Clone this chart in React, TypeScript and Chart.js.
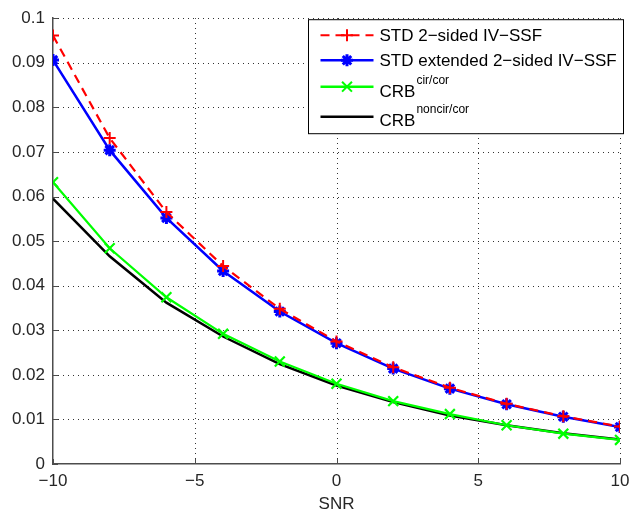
import React, { useEffect, useRef } from "react";
import { Chart, registerables } from "chart.js";

Chart.register(...registerables);

const snr = [-10, -8, -6, -4, -2, 0, 2, 4, 6, 8, 10];
const stdTwoSided = [0.0961, 0.0731, 0.0565, 0.0444, 0.0348, 0.0275, 0.0217, 0.0171, 0.0135, 0.0107, 0.0084];
const stdExtended = [0.0906, 0.0704, 0.0552, 0.0433, 0.0342, 0.0271, 0.0214, 0.0169, 0.0134, 0.0106, 0.0083];
const crbCir = [0.0632, 0.0484, 0.0374, 0.0292, 0.023, 0.018, 0.0141, 0.0112, 0.0087, 0.0068, 0.0054];
const crbNoncir = [0.0595, 0.0466, 0.0362, 0.0286, 0.0224, 0.0176, 0.0139, 0.0109, 0.0087, 0.0069, 0.0055];

const xTickStep = 5;
const yTickStep = 0.01;
const xTitle = "SNR";

const legendItems = [
  { label: "STD 2\u2212sided IV\u2212SSF", sup: "", color: "#ff0000", dash: [9, 6], marker: "cross" },
  { label: "STD extended 2\u2212sided IV\u2212SSF", sup: "", color: "#0000ff", dash: [], marker: "star" },
  { label: "CRB", sup: "cir/cor", color: "#00ff00", dash: [], marker: "crossRot" },
  { label: "CRB", sup: "noncir/cor", color: "#000000", dash: [], marker: "none" },
];

const FONT = "'Liberation Sans', Arial, Helvetica, sans-serif";
const AXIS_COLOR = "#4d4d4d";

function drawMarker(ctx: CanvasRenderingContext2D, kind: string, x: number, y: number, r: number) {
  ctx.beginPath();
  if (kind === "cross" || kind === "star") {
    ctx.moveTo(x - r, y);
    ctx.lineTo(x + r, y);
    ctx.moveTo(x, y - r);
    ctx.lineTo(x, y + r);
  }
  if (kind === "crossRot" || kind === "star") {
    const d = r * 0.7071;
    ctx.moveTo(x - d, y - d);
    ctx.lineTo(x + d, y + d);
    ctx.moveTo(x - d, y + d);
    ctx.lineTo(x + d, y - d);
  }
  ctx.stroke();
}

const dottedGridPlugin = {
  id: "dottedGrid",
  beforeDatasetsDraw(chart: any) {
    const { ctx, chartArea, scales } = chart;
    ctx.save();
    ctx.strokeStyle = "#333333";
    ctx.lineWidth = 1;
    ctx.setLineDash([1, 4]);
    const xs = scales.x;
    xs.ticks.forEach((t: any, i: number) => {
      if (i === 0) return;
      const px = Math.round(xs.getPixelForValue(t.value)) + 0.5;
      ctx.beginPath();
      ctx.moveTo(px, chartArea.bottom);
      ctx.lineTo(px, chartArea.top);
      ctx.stroke();
    });
    const ys = scales.y;
    ys.ticks.forEach((t: any, i: number) => {
      if (i === 0) return;
      const py = Math.round(ys.getPixelForValue(t.value)) + 0.5;
      ctx.beginPath();
      ctx.moveTo(chartArea.left, py);
      ctx.lineTo(chartArea.right, py);
      ctx.stroke();
    });
    ctx.setLineDash([]);
    ctx.strokeStyle = AXIS_COLOR;
    xs.ticks.forEach((t: any) => {
      const px = Math.round(xs.getPixelForValue(t.value)) + 0.5;
      ctx.beginPath();
      ctx.moveTo(px, chartArea.bottom);
      ctx.lineTo(px, chartArea.bottom - 5);
      ctx.stroke();
    });
    ys.ticks.forEach((t: any) => {
      const py = Math.round(ys.getPixelForValue(t.value)) + 0.5;
      ctx.beginPath();
      ctx.moveTo(chartArea.left, py);
      ctx.lineTo(chartArea.left + 5, py);
      ctx.stroke();
    });
    ctx.restore();
  },
};

const legendPlugin = {
  id: "customLegend",
  afterDraw(chart: any) {
    const { ctx, chartArea } = chart;
    const right = chartArea.right + 3.5;
    const left = right - 315;
    const top = chartArea.top + 1.5;
    const bottom = top + 114;
    ctx.save();
    ctx.fillStyle = "#ffffff";
    ctx.fillRect(left, top, right - left, bottom - top);
    ctx.strokeStyle = "#000000";
    ctx.lineWidth = 1;
    ctx.setLineDash([]);
    ctx.strokeRect(left, top, right - left, bottom - top);

    const lineYs = [15.5, 40.5, 67, 97];
    const baseYs = [21.5, 46.5, 77, 106];
    const supYs = [0, 0, 64, 93];
    const x0 = left + 12;
    const x1 = left + 65;
    const xm = (x0 + x1) / 2;
    const tx = left + 71;

    legendItems.forEach((it, i) => {
      const ly = top + lineYs[i];
      ctx.strokeStyle = it.color;
      ctx.lineWidth = i === 0 ? 2 : 2.5;
      ctx.setLineDash(it.dash);
      ctx.beginPath();
      ctx.moveTo(x0, ly);
      ctx.lineTo(x1, ly);
      ctx.stroke();
      ctx.setLineDash([]);
      if (it.marker !== "none") {
        ctx.lineWidth = it.marker === "star" ? 3 : 2;
        drawMarker(ctx, it.marker, xm, ly, it.marker === "crossRot" ? 7 : 6);
      }
      ctx.fillStyle = "#000000";
      ctx.textAlign = "left";
      ctx.textBaseline = "alphabetic";
      ctx.font = `17px ${FONT}`;
      ctx.fillText(it.label, tx, top + baseYs[i]);
      if (it.sup) {
        const w = ctx.measureText(it.label).width;
        ctx.font = `12px ${FONT}`;
        ctx.fillText(it.sup, tx + w + 1, top + supYs[i]);
      }
    });
    ctx.restore();
  },
};

export default function App() {
  const canvasRef = useRef<HTMLCanvasElement | null>(null);

  useEffect(() => {
    if (!canvasRef.current) return;
    const chart = new Chart(canvasRef.current, {
      type: "line",
      data: {
        datasets: [
          {
            label: legendItems[0].label,
            data: snr.map((x, i) => ({ x, y: stdTwoSided[i] })),
            borderColor: "#ff0000",
            backgroundColor: "#ff0000",
            borderWidth: 2.2,
            borderDash: [9, 6],
            pointStyle: "cross",
            pointRadius: 6,
            pointBorderWidth: 2,
            pointBorderColor: "#ff0000",
            tension: 0,
          },
          {
            label: legendItems[1].label,
            data: snr.map((x, i) => ({ x, y: stdExtended[i] })),
            borderColor: "#0000ff",
            backgroundColor: "#0000ff",
            borderWidth: 2.5,
            pointStyle: "star",
            pointRadius: 6,
            pointBorderWidth: 3,
            pointBorderColor: "#0000ff",
            tension: 0,
          },
          {
            label: "CRB cir/cor",
            data: snr.map((x, i) => ({ x, y: crbCir[i] })),
            borderColor: "#00ff00",
            backgroundColor: "#00ff00",
            borderWidth: 2.2,
            pointStyle: "crossRot",
            pointRadius: 7,
            pointBorderWidth: 2.2,
            pointBorderColor: "#00ff00",
            tension: 0,
          },
          {
            label: "CRB noncir/cor",
            data: snr.map((x, i) => ({ x, y: crbNoncir[i] })),
            borderColor: "#000000",
            backgroundColor: "#000000",
            borderWidth: 2.5,
            pointRadius: 0,
            tension: 0,
          },
        ],
      },
      options: {
        animation: false,
        responsive: false,
        events: [],
        layout: { padding: { top: 16, right: 22, left: 0, bottom: 0 } },
        plugins: {
          legend: { display: false },
          tooltip: { enabled: false },
        },
        scales: {
          x: {
            type: "linear",
            min: -10,
            max: 10,
            afterFit: (s: any) => {
              s.height = 51;
            },
            ticks: {
              stepSize: xTickStep,
              padding: 7,
              color: "#262626",
              font: { family: FONT, size: 17 },
              maxRotation: 0,
              callback: (v: any) => (Number(v) < 0 ? "\u2212" + Math.abs(Number(v)) : String(v)),
            },
            grid: { display: false, drawTicks: false },
            border: { display: true, color: AXIS_COLOR, width: 1.5 },
            title: {
              display: true,
              text: xTitle,
              color: "#262626",
              font: { family: FONT, size: 17 },
              padding: { top: 0, bottom: 0 },
            },
          },
          y: {
            type: "linear",
            min: 0,
            max: 0.1,
            afterFit: (s: any) => {
              s.width = 53;
            },
            ticks: {
              stepSize: yTickStep,
              padding: 8,
              color: "#262626",
              font: { family: FONT, size: 17 },
              callback: (v: any) => String(Number(Number(v).toFixed(2))),
            },
            grid: { display: false, drawTicks: false },
            border: { display: true, color: AXIS_COLOR, width: 1.5 },
          },
        },
      },
      plugins: [dottedGridPlugin, legendPlugin],
    });
    return () => chart.destroy();
  }, []);

  return (
    <div style={{ position: "absolute", left: 0, top: 0, width: 642, height: 515, background: "#ffffff" }}>
      <canvas ref={canvasRef} width={642} height={515} />
    </div>
  );
}
